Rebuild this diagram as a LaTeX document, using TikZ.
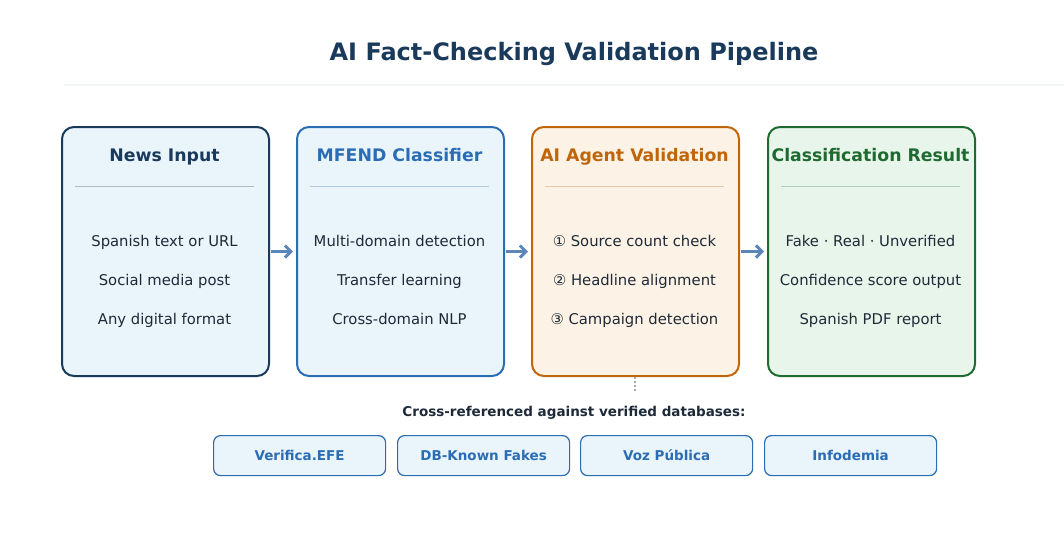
\documentclass[tikz,border=0pt]{standalone}
\usepackage{fontspec}
\setmainfont{DejaVu Sans}
\usetikzlibrary{arrows.meta}
\definecolor{txt}{HTML}{1E2A38}
\definecolor{navy}{HTML}{1A3A5C}
\definecolor{blu}{HTML}{2A6DB5}
\definecolor{org}{HTML}{C0660A}
\definecolor{grn}{HTML}{1E6A30}
\definecolor{lblue}{HTML}{EAF4FB}
\definecolor{lorg}{HTML}{FDF2E6}
\definecolor{lgrn}{HTML}{E8F5EA}
\definecolor{arr}{HTML}{5B86B8}
\begin{document}
\begin{tikzpicture}[x=1pt,y=-1pt,
  box/.style={draw, line width=2pt, rounded corners=12pt, minimum width=207pt, minimum height=249pt, anchor=north west},
  head/.style={font=\fontsize{17.3}{19}\selectfont\bfseries, text height=12pt, text depth=3pt},
  item/.style={font=\fontsize{14.8}{16}\selectfont, text=txt, text height=11pt, text depth=3pt},
  db/.style={draw=blu, fill=lblue, line width=1.2pt, rounded corners=7pt, minimum width=172pt, minimum height=40pt, anchor=north west, text=blu, font=\fontsize{13.5}{15}\selectfont\bfseries},
  conn/.style={arr, line width=3pt, -{Straight Barb[length=6pt,width=12pt]}, shorten <=1pt, shorten >=3pt}]
\useasboundingbox (0,0) rectangle (1064,558);
\node[font=\fontsize{24}{27}\selectfont\bfseries, text=navy] (title) at (574,54) {AI Fact-Checking Validation Pipeline};
\draw[lblue!80!gray!30, line width=1.5pt] (64,85) -- (1064,85);
\foreach \n/\x/\c/\f/\h/\a/\b/\cc in {
 b1/61/navy/lblue/News Input/Spanish text or URL/Social media post/Any digital format,
 b2/296/blu/lblue/MFEND Classifier/Multi-domain detection/Transfer learning/Cross-domain NLP,
 b3/531/org/lorg/AI Agent Validation/① Source count check/② Headline alignment/③ Campaign detection,
 b4/767/grn/lgrn/Classification Result/Fake · Real · Unverified/Confidence score output/Spanish PDF report}{
 \node[box, draw=\c, fill=\f] (\n) at (\x,126) {};
 \node[head, text=\c] (\n h) at (\x+103.5,157) {\h};
 \draw[\c!35, line width=1pt] (\x+14,186) -- (\x+193,186);
 \node[item] (\n a) at (\x+103.5,242) {\a};
 \node[item] (\n b) at (\x+103.5,281) {\b};
 \node[item] (\n c) at (\x+103.5,320) {\cc};
}
\draw[conn] (b1.east) -- (b2.west);
\draw[conn] (b2.east) -- (b3.west);
\draw[conn] (b3.east) -- (b4.west);
\coordinate (dotend) at (635,393);
\draw[gray!70, line width=1.2pt, dash pattern=on 1.5pt off 2.5pt] (635,377) -- (dotend);
\node[font=\fontsize{13.5}{15}\selectfont\bfseries, text=txt] (cr) at (574,413) {Cross-referenced against verified databases:};
\node[db] (d1) at (213,435) {Verifica.EFE};
\node[db] (d2) at (397,435) {DB-Known Fakes};
\node[db] (d3) at (580,435) {Voz Pública};
\node[db] (d4) at (764,435) {Infodemia};
\end{tikzpicture}
\end{document}
